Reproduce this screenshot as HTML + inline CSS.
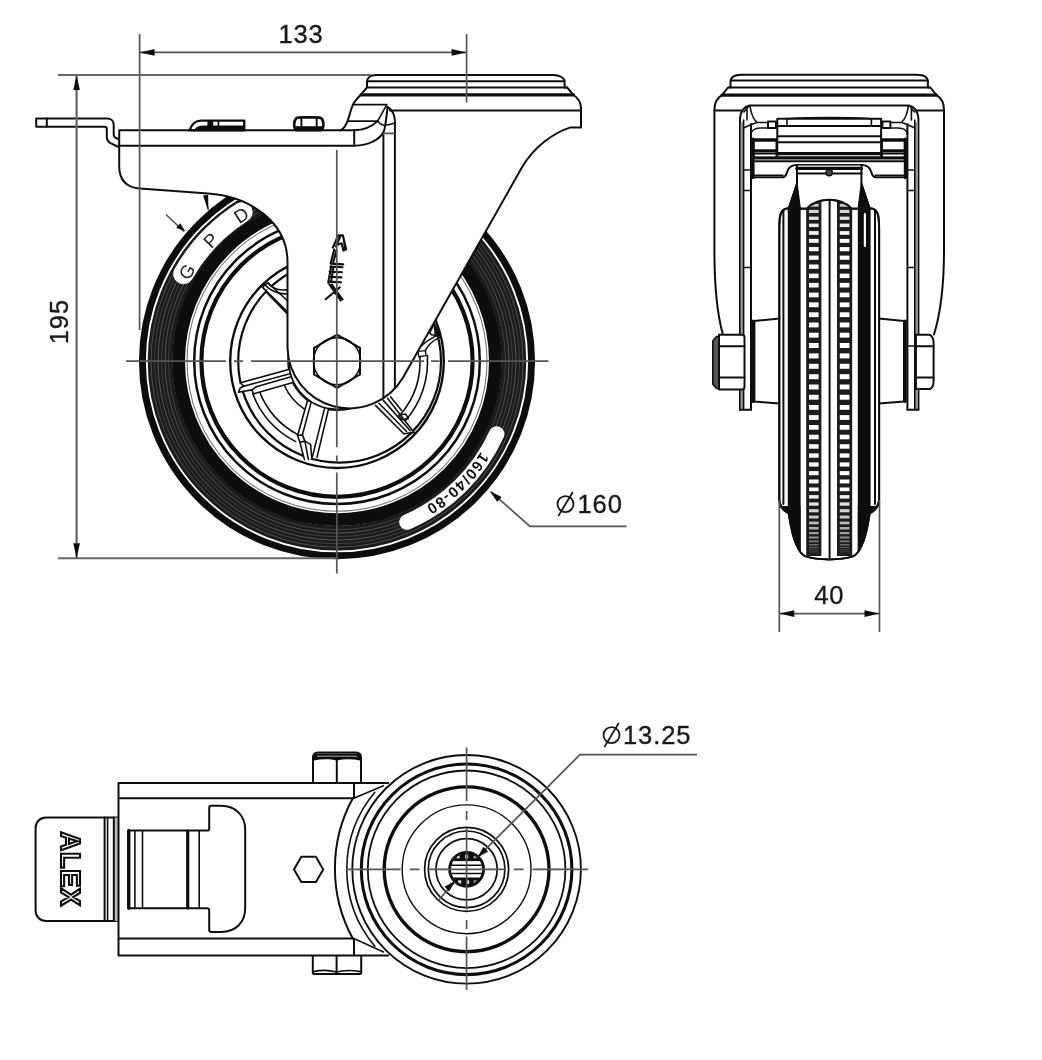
<!DOCTYPE html>
<html><head><meta charset="utf-8"><title>Caster drawing</title>
<style>html,body{margin:0;padding:0;background:#fff}svg{display:block}</style>
</head><body>
<svg width="1042" height="1060" viewBox="0 0 1042 1060">
<defs>
<filter id="soft" x="0" y="0" width="100%" height="100%" filterUnits="userSpaceOnUse"><feGaussianBlur stdDeviation="0.55"/></filter>
<style>
.k{fill:none;stroke:#111;stroke-width:2.0;stroke-linecap:round;stroke-linejoin:round}
.kt{fill:none;stroke:#111;stroke-width:1.6;stroke-linecap:round;stroke-linejoin:round}
.kb{fill:none;stroke:#111;stroke-width:3.2;stroke-linecap:round;stroke-linejoin:round}
.w{fill:#fff;stroke:#111;stroke-width:2.0;stroke-linecap:round;stroke-linejoin:round}
.wt{fill:#fff;stroke:#111;stroke-width:1.2;stroke-linejoin:round}
.d{fill:none;stroke:#555;stroke-width:1.7}
.dt{font-family:"Liberation Sans",sans-serif;fill:#1a1a1a;letter-spacing:0.9px;stroke:#1a1a1a;stroke-width:0.35}
.ar{fill:#111;stroke:none}
</style>
</defs>
<rect width="100%" height="100%" fill="#fff"/>
<g filter="url(#soft)">
<g id="mainview">
<circle cx="337.0" cy="361.2" r="198.0" style="fill:#fff;stroke:none"/>
<circle cx="337.0" cy="361.2" r="176.9" style="fill:none;stroke:#1a1a1a;stroke-width:24.8"/>
<circle cx="337.0" cy="361.2" r="186.0" style="fill:none;stroke:#555;stroke-width:0.9"/>
<circle cx="337.0" cy="361.2" r="182.5" style="fill:none;stroke:#444;stroke-width:0.9"/>
<circle cx="337.0" cy="361.2" r="179.0" style="fill:none;stroke:#5e5e5e;stroke-width:0.9"/>
<circle cx="337.0" cy="361.2" r="175.5" style="fill:none;stroke:#444;stroke-width:0.9"/>
<circle cx="337.0" cy="361.2" r="172.0" style="fill:none;stroke:#585858;stroke-width:0.9"/>
<circle cx="337.0" cy="361.2" r="168.5" style="fill:none;stroke:#444;stroke-width:0.9"/>
<circle cx="337.0" cy="361.2" r="194.6" style="fill:none;stroke:#0a0a0a;stroke-width:6.9"/>
<circle cx="337.0" cy="361.2" r="158.4" style="fill:none;stroke:#0a0a0a;stroke-width:12.8"/>
<circle cx="337.0" cy="361.2" r="150.0" style="fill:none;stroke:#777;stroke-width:1.1"/>
<circle cx="337.0" cy="361.2" r="142.8" style="fill:none;stroke:#111;stroke-width:2.5"/>
<circle cx="337.0" cy="361.2" r="135.6" style="fill:none;stroke:#111;stroke-width:4.2"/>
<path d="M183.4,274.0 A176.6,176.6 0 0 1 242.4,212.1" fill="none" stroke="#fff" stroke-width="20.4" stroke-linecap="round"/>
<text transform="translate(192.5,275.1) rotate(-59.2)" font-family="Liberation Sans, sans-serif" font-size="18.5" fill="#222" text-anchor="middle">G</text>
<text transform="translate(215.6,244.8) rotate(-46.2)" font-family="Liberation Sans, sans-serif" font-size="18.5" fill="#222" text-anchor="middle">P</text>
<text transform="translate(244.9,220.5) rotate(-33.2)" font-family="Liberation Sans, sans-serif" font-size="18.5" fill="#222" text-anchor="middle">D</text>
<path d="M496.7,434.0 A175.5,175.5 0 0 1 407.0,522.1" fill="none" stroke="#fff" stroke-width="15.5" stroke-linecap="round"/>
<path id="tp2" d="M496.3,420.8 A170.1,170.1 0 0 1 393.8,521.5" fill="none" stroke="none"/>
<text font-family="Liberation Sans, sans-serif" font-size="15" font-weight="bold" fill="#111" letter-spacing="1.3" text-anchor="middle"><textPath href="#tp2" startOffset="50%">160/40-80</textPath></text>
<circle cx="337.0" cy="361.2" r="106.8" style="fill:none;stroke:#111;stroke-width:2.4"/>
<circle cx="339.6" cy="361.2" r="101.4" style="fill:none;stroke:#111;stroke-width:2.2"/>
<path d="M295.7,441.6 A90.4,90.4 0 0 1 252.8,394.0" class="kt"/>
<path d="M297.8,434.6 A83.2,83.2 0 0 1 259.7,392.1" class="kt"/>
<path d="M304.7,409.4 A58.0,58.0 0 0 1 284.1,385.0" class="kt"/>
<path d="M427.4,355.5 A90.6,90.6 0 0 1 405.2,420.9" class="kt"/>
<path d="M419.9,356.3 A83.0,83.0 0 0 1 400.4,414.8" class="kt"/>
<circle cx="337.0" cy="361.2" r="49.0" style="fill:#fff;stroke:#111;stroke-width:1.6"/>
<path d="M307.3,401.2 L297.6,435.5 L299.9,442.3 L304.2,460.2 L317.0,457.4 L328.6,408.7 Z" class="kt" style="fill:#fff;stroke:none"/>
<path d="M307.3,401.2 L297.6,435.5" class="kt"/>
<path d="M311.1,402.4 L302.4,434.9" class="kt"/>
<path d="M324.8,407.4 L312.0,458.4" class="kt"/>
<path d="M328.6,408.7 L317.0,457.4" class="kt"/>
<path d="M297.6,435.5 L299.9,442.3 L304.4,459.6" class="kt"/>
<path d="M302.4,434.9 L304.9,441.1 L310.6,444.4 L311.8,458.4" class="kt"/>
<path d="M299.9,442.3 L304.9,441.1" class="kt"/>
<path d="M304.9,441.1 L308.4,459.4" class="kt"/>
<path d="M297.6,435.5 L302.4,434.9" class="kt"/>
<path d="M240.4,382.8 L288.6,369.4 L293.0,382.5 L253.7,393.7 L251.8,389.9 L238.2,392.4 Z" class="kt" style="fill:#fff;stroke:none"/>
<path d="M240.4,382.8 L288.6,369.4" class="kt"/>
<path d="M243.7,386.2 L289.9,373.7" class="kt"/>
<path d="M256.2,386.8 L291.1,376.8" class="kt"/>
<path d="M253.7,393.7 L293.0,382.5" class="kt"/>
<path d="M238.4,392.2 L251.8,389.9 L253.7,394.6" class="kt"/>
<path d="M243.7,386.2 L240.2,388.0 L238.8,391.6" class="kt"/>
<path d="M251.8,389.9 L256.2,386.8" class="kt"/>
<path d="M240.4,382.8 L243.7,386.2" class="kt"/>
<path d="M375.5,405.4 L403.8,433.7 L414.0,432.4 L387.5,398.3 Z" class="kt" style="fill:#fff;stroke:none"/>
<path d="M375.5,405.4 L403.8,433.7" class="kt"/>
<path d="M379.0,403.3 L406.6,431.5" class="kt"/>
<path d="M383.3,400.4 L410.2,430.8" class="kt"/>
<path d="M387.5,398.3 L414.0,432.4" class="kt"/>
<path d="M390.5,396.8 L401.6,410.4" class="kt"/>
<path d="M398.6,415.2 L405.6,414.0 L408.4,418.6 L401.8,419.6 Z" class="kt"/>
<path d="M403.8,433.7 L414.0,432.4" class="kt"/>
<path d="M268.2,283.0 L292.0,305.0 L292.0,318.6 L266.8,292.6 Z" class="kt" style="fill:#fff;stroke:none"/>
<path d="M262.6,287.4 L292.0,316.4" class="kt"/>
<path d="M266.8,292.6 L292.0,318.6" class="kt"/>
<path d="M268.2,283.0 L292.0,305.0" class="kt"/>
<path d="M265.0,284.6 C270,291 280,295 289,293.6" class="kt"/>
<path d="M268.2,283.0 C272,288.6 280,291 289,289.4" class="kt"/>
<path d="M262.6,287.4 L265.0,284.6 L268.2,283.0" class="kt"/>
<path d="M418.0,351.4 L425.4,350.6 L426.0,355.6 L418.8,356.8 Z" class="kt" style="fill:#fff;stroke:#111;stroke-width:1.4"/>
<path d="M425.4,350.6 C428,345 433,340.5 439.6,337.4" class="kt"/>
<path d="M421.4,345.6 C426,341.6 431,338.4 438.4,334.6" class="kt"/>
<path d="M429.6,333.0 L434.4,323.6 L439.8,335.6 L431.6,334.8 Z" class="kt"/>
<path d="M434.4,323.6 L435.2,334.6" class="kt"/>
<circle cx="337.0" cy="361.2" r="48.0" style="fill:#fff;stroke:#111;stroke-width:1.6"/>
<path d="M36.2,118.6 H107 C111,118.6 113.7,121 113.7,125 V134.5 C113.7,136.5 114.5,137.4 116,138 L119.5,139.5 V147.5 L110,142.8 C108,141.6 106.8,140 106.8,137 V129 C106.8,127.6 106,126.8 104.5,126.8 H36.2 Z" class="w"/>
<line x1="46.8" y1="118.6" x2="46.8" y2="126.8" class="k"/>
<path d="M119.2,130.3 H340.7 C344,128.6 346,125.5 347.7,120.7 C349.5,116 350.5,110 353,104.6 C354.5,101.5 357,98.5 360.7,95 L367,87.4 L367,82 C367,78 370,75 376,75 H553 C560,75 564.6,78 564.6,82 V87.4 L567,87.4 L573.4,95 C578,98 581,102 581,108 V127.4 H570.5 C553,133 534,147 522,167.3 L402.9,377.8 A62,62 0 0 1 287.5,347 V262 C287.5,222 250,196.5 208,193.6 L140,188.6 C126,187.5 119.2,180 119.2,166 Z" class="w"/>
<path d="M119.2,145.7 H354.2 C368,145.5 380,140 384,131 C386,124 386.8,113 387.6,106.9" class="k"/>
<path d="M354.2,130.3 V145.7" class="k"/>
<path d="M340.7,130.3 H354.2 C364,130 372,126.5 377.6,121.1" class="k"/>
<path d="M377.6,121.1 C380,124 383,125.5 385.3,125.3 C389,125 392,124 394.9,123" class="kt"/>
<path d="M353,104.6 H386.8 L377.6,121.1 H348" class="kt"/>
<line x1="367.5" y1="81.2" x2="564.6" y2="81.2" class="k"/>
<line x1="367.5" y1="87.4" x2="567.0" y2="87.4" class="k"/>
<line x1="361.0" y1="94.9" x2="573.4" y2="94.9" class="kb"/>
<line x1="389.9" y1="110.4" x2="581.0" y2="110.4" class="k"/>
<line x1="383.4" y1="135.3" x2="383.4" y2="398.3" class="k"/>
<path d="M394.9,388 V120.7 C394.5,115 392.5,110.5 389.1,108.2 L387.6,106.9" class="k"/>
<path d="M383.7,133.4 H394.9" style="stroke:#555;stroke-width:1.8;fill:none"/>
<path d="M189.6,130.3 C191.5,124.5 195,120.6 201,120.6 H244.2 V130.3 Z" style="fill:#fff;stroke:#111;stroke-width:2.4;stroke-linejoin:round"/>
<path d="M194,130 C196,126.8 199,125.4 204,125.4 H244 V130.3 H194 Z" style="fill:#111;stroke:none"/>
<rect x="207.4" y="120.6" width="5.8" height="9" fill="#111"/>
<path d="M218.4,120.6 V129" style="stroke:#111;stroke-width:1.8;fill:none"/>
<path d="M296.4,130.3 C293.6,128 293.2,121 296.4,118.2 C298,117.4 300,117.4 303,117.4 H314.4 C318,117.4 319.6,117.4 321.2,118.2 C324.4,121 324,128 321.2,130.3 Z" style="fill:#fff;stroke:#111;stroke-width:2.6;stroke-linejoin:round"/>
<path d="M295.6,126.2 H322 V130.3 H295.6 Z" style="fill:#111;stroke:none"/>
<path d="M301.4,118.2 V127 M316.7,118.2 V127" style="stroke:#111;stroke-width:1.9;fill:none"/>
<path class="w" d="M337.0,334.6 L360.0,347.9 L360.0,374.5 L337.0,387.8 L314.0,374.5 L314.0,347.9 Z"/>
<circle cx="337.0" cy="361.2" r="23.6" class="kt"/>
<path d="M332.8,247.6 L338.2,235.4 L342.8,235.2 L346.2,249.4 L343.4,250.6 L341.6,243.2 L337.2,244.8 M340.4,236 L336,246.5 M343.6,238 L345,248 M334.2,249.5 L330.6,263.6 L343.2,264.4 M336.4,250.4 L333.4,262 M330.4,266.6 L342.6,267.2 M329.6,271.6 L342,272.2 M329,276.8 L341.4,277.4 M328.4,281.6 L341,282.2 M331.2,266.6 L328.2,282.6 M333.6,267 L331,282 M329.4,284.4 L340.6,300.4 M331.8,284.6 L342.4,299.4 M325.6,299.2 L339.8,287.4" fill="none" stroke="#111" stroke-width="2.1" stroke-linecap="round" stroke-linejoin="round"/>
</g>
<g id="sideview">
<path d="M722.9,334.5 C717.4,315 714.4,285 714.4,250 V110.3 C714.4,103 717,98 722,95.2 L728,87.5 L730.5,87.5 V82 C730.5,77 735,74.7 741.5,74.7 H916.9 C923.4,74.7 927.9,77 927.9,82 V87.5 L930.4,87.5 L936.4,95.2 C941.4,98 944.0,103 944.0,110.3 V250 C944.0,285 940.0,315 934.0,334.5 L907.4,334.5 V409.7 H751 V334.5 Z" style="fill:#fff;stroke:none"/>
<path d="M722.9,334.5 C717.4,315 714.4,285 714.4,250 V110.3 C714.4,103 717,98 722,95.2 L728,87.5 L730.5,87.5 V82 C730.5,77 735,74.7 741.5,74.7 H916.9 C923.4,74.7 927.9,77 927.9,82 V87.5 L930.4,87.5 L936.4,95.2 C941.4,98 944.0,103 944.0,110.3 V250 C944.0,285 940.0,315 934.0,334.5" class="k"/>
<line x1="731.0" y1="80.4" x2="927.4" y2="80.4" class="k"/>
<line x1="729.0" y1="87.6" x2="929.4" y2="87.6" class="k"/>
<line x1="722.0" y1="95.2" x2="936.4" y2="95.2" class="kb"/>
<line x1="714.4" y1="110.4" x2="741.0" y2="110.4" class="k"/>
<line x1="944.0" y1="110.4" x2="917.4" y2="110.4" class="k"/>
<path d="M740,409.7 V118 C741,110 744,106.5 749.5,105.4 H908.9 C914.4,106.5 917.4,110 918.4,118 V409.7" class="w"/>
<rect x="740.6" y="122" width="3.0" height="287" fill="#999"/>
<line x1="743.6" y1="120.0" x2="743.6" y2="409.7" class="kt"/>
<line x1="751.0" y1="124.0" x2="751.0" y2="409.7" class="k"/>
<line x1="740.0" y1="409.7" x2="751.0" y2="409.7" class="k"/>
<line x1="743.6" y1="190.5" x2="751.0" y2="190.5" class="kt"/>
<line x1="743.6" y1="267.5" x2="751.0" y2="267.5" class="kt"/>
<line x1="743.6" y1="170.0" x2="751.0" y2="170.0" class="kt"/>
<path d="M750.0,106 C751.0,113 753.0,119 757.0,122.5 H767.0 M743.6,128 C748.0,126 752.0,124 757.0,122.5 M744.0,112 L748.0,107 M747.0,120 V108" class="kt"/>
<rect x="768.0" y="121.4" width="8" height="6.6" class="w"/>
<path d="M751.0,133.5 C752.0,130 755.0,128.2 760.0,128 H777.3" class="kt"/>
<rect x="753.6" y="139.6" width="22.9" height="18.2" class="w"/>
<line x1="753.6" y1="140.2" x2="776.5" y2="140.2" class="kb"/>
<line x1="753.6" y1="150.8" x2="776.5" y2="150.8" class="kb"/>
<line x1="753.6" y1="153.6" x2="776.5" y2="153.6" class="kt"/>
<line x1="753.0" y1="139.0" x2="753.0" y2="177.6" class="kb"/>
<rect x="914.8" y="122" width="3.0" height="287" fill="#999"/>
<line x1="914.8" y1="120.0" x2="914.8" y2="409.7" class="kt"/>
<line x1="907.4" y1="124.0" x2="907.4" y2="409.7" class="k"/>
<line x1="918.4" y1="409.7" x2="907.4" y2="409.7" class="k"/>
<line x1="914.8" y1="190.5" x2="907.4" y2="190.5" class="kt"/>
<line x1="914.8" y1="267.5" x2="907.4" y2="267.5" class="kt"/>
<line x1="914.8" y1="170.0" x2="907.4" y2="170.0" class="kt"/>
<path d="M908.4,106 C907.4,113 905.4,119 901.4,122.5 H891.4 M914.8,128 C910.4,126 906.4,124 901.4,122.5 M914.4,112 L910.4,107 M911.4,120 V108" class="kt"/>
<rect x="882.4" y="121.4" width="8" height="6.6" class="w"/>
<path d="M907.4,133.5 C906.4,130 903.4,128.2 898.4,128 H881.1" class="kt"/>
<rect x="881.9" y="139.6" width="22.9" height="18.2" class="w"/>
<line x1="904.8" y1="140.2" x2="881.9" y2="140.2" class="kb"/>
<line x1="904.8" y1="150.8" x2="881.9" y2="150.8" class="kb"/>
<line x1="904.8" y1="153.6" x2="881.9" y2="153.6" class="kt"/>
<line x1="905.4" y1="139.0" x2="905.4" y2="177.6" class="kb"/>
<rect x="777.3" y="118.8" width="103.8" height="38.8" class="w"/>
<path d="M787,118.8 C800,117 858.4,117 871.4,118.8 V125.8 M787,118.8 V125.8" class="kt"/>
<line x1="777.3" y1="126.0" x2="881.1" y2="126.0" class="k"/>
<line x1="777.3" y1="136.2" x2="881.1" y2="136.2" class="k"/>
<line x1="777.3" y1="142.2" x2="881.1" y2="142.2" class="k"/>
<line x1="777.3" y1="153.6" x2="881.1" y2="153.6" class="kb"/>
<line x1="753.6" y1="158.0" x2="904.8" y2="158.0" class="kb"/>
<path d="M753.6,161.3 H904.8 V177.3 H875.9 C872.4,177.3 871.9,174 870.9,171 C869.4,167 866.4,165 861.9,165 H796.5 C792,165 789,167 787.5,171 C786.5,174 786,177.3 782.5,177.3 H753.6 Z" class="w"/>
<line x1="753.6" y1="175.2" x2="783.0" y2="175.2" class="kt"/>
<line x1="904.8" y1="175.2" x2="875.4" y2="175.2" class="kt"/>
<line x1="797.0" y1="168.4" x2="861.4" y2="168.4" class="kb"/>
<line x1="797.0" y1="173.4" x2="861.4" y2="173.4" class="k"/>
<circle cx="829.2" cy="172.6" r="3.2" style="fill:#444;stroke:#111;stroke-width:1.4"/>
<path d="M754.4,321 L779.6,318.5 V403.5 L754.4,401.5 Z" class="w"/>
<line x1="753.2" y1="321.0" x2="753.2" y2="401.5" class="kb"/>
<path d="M904.0,321 L878.8,318.5 V403.5 L904.0,401.5 Z" class="w"/>
<line x1="905.2" y1="321.0" x2="905.2" y2="401.5" class="kb"/>
<path d="M779.3,228 C779.3,214 781,210 786,208.6 H806.5 C812,203 820,199.8 829.2,199.8 C838.4,199.8 846.4,203 851.9,208.6 H872.4 C877.4,210 879.1,214 879.1,228 V499.6 C878.8,506 876.4,510 869.7,513.2 C868.4,522 865.4,538 861.8,545 C859.4,551 856.4,555 852.8,556.4 C846.4,558.6 838.4,559.4 829.2,559.4 C820,559.4 812,558.6 805.6,556.4 C802,555 799,551 796.6,545 C793,538 790,522 788.7,513.2 C782,510 779.6,506 779.3,499.6 Z" class="w"/>
<clipPath id="wclip"><path d="M779.3,228 C779.3,214 781,210 786,208.6 H806.5 C812,203 820,199.8 829.2,199.8 C838.4,199.8 846.4,203 851.9,208.6 H872.4 C877.4,210 879.1,214 879.1,228 V499.6 C878.8,506 876.4,510 869.7,513.2 C868.4,522 865.4,538 861.8,545 C859.4,551 856.4,555 852.8,556.4 C846.4,558.6 838.4,559.4 829.2,559.4 C820,559.4 812,558.6 805.6,556.4 C802,555 799,551 796.6,545 C793,538 790,522 788.7,513.2 C782,510 779.6,506 779.3,499.6 Z"/></clipPath>
<g clip-path="url(#wclip)">
<rect x="787.8" y="182" width="12.8" height="380" fill="#0a0a0a"/>
<rect x="778.0" y="506" width="22.6" height="60" fill="#0a0a0a"/>
<rect x="857.8" y="182" width="12.8" height="380" fill="#0a0a0a"/>
<rect x="857.8" y="506" width="22.6" height="60" fill="#0a0a0a"/>
<rect x="806.2" y="200.0" width="15.2" height="356.0" fill="#1c1c1c"/>
<rect x="809.0" y="200.0" width="9.6" height="0.7" fill="rgb(70,70,70)"/>
<rect x="809.0" y="203.8" width="9.6" height="2.9" fill="rgb(200,200,200)"/>
<rect x="809.0" y="209.9" width="9.6" height="3.1" fill="rgb(213,213,213)"/>
<rect x="809.0" y="216.6" width="9.6" height="3.3" fill="rgb(226,226,226)"/>
<rect x="809.0" y="223.6" width="9.6" height="3.5" fill="rgb(238,238,238)"/>
<rect x="809.0" y="231.1" width="9.6" height="3.7" fill="rgb(249,249,249)"/>
<rect x="809.0" y="238.9" width="9.6" height="3.9" fill="rgb(255,255,255)"/>
<rect x="809.0" y="247.1" width="9.6" height="4.1" fill="rgb(255,255,255)"/>
<rect x="809.0" y="255.6" width="9.6" height="4.2" fill="rgb(255,255,255)"/>
<rect x="809.0" y="264.5" width="9.6" height="4.3" fill="rgb(255,255,255)"/>
<rect x="809.0" y="273.6" width="9.6" height="4.5" fill="rgb(255,255,255)"/>
<rect x="809.0" y="282.9" width="9.6" height="4.6" fill="rgb(255,255,255)"/>
<rect x="809.0" y="292.6" width="9.6" height="4.7" fill="rgb(255,255,255)"/>
<rect x="809.0" y="302.4" width="9.6" height="4.8" fill="rgb(255,255,255)"/>
<rect x="809.0" y="312.3" width="9.6" height="4.8" fill="rgb(255,255,255)"/>
<rect x="809.0" y="322.5" width="9.6" height="4.9" fill="rgb(255,255,255)"/>
<rect x="809.0" y="332.7" width="9.6" height="4.9" fill="rgb(255,255,255)"/>
<rect x="809.0" y="343.0" width="9.6" height="5.0" fill="rgb(255,255,255)"/>
<rect x="809.0" y="353.4" width="9.6" height="5.0" fill="rgb(255,255,255)"/>
<rect x="809.0" y="363.8" width="9.6" height="5.0" fill="rgb(255,255,255)"/>
<rect x="809.0" y="374.2" width="9.6" height="5.0" fill="rgb(255,255,255)"/>
<rect x="809.0" y="384.5" width="9.6" height="4.9" fill="rgb(255,255,255)"/>
<rect x="809.0" y="394.8" width="9.6" height="4.9" fill="rgb(255,255,255)"/>
<rect x="809.0" y="405.0" width="9.6" height="4.8" fill="rgb(255,255,255)"/>
<rect x="809.0" y="415.1" width="9.6" height="4.8" fill="rgb(255,255,255)"/>
<rect x="809.0" y="425.0" width="9.6" height="4.7" fill="rgb(255,255,255)"/>
<rect x="809.0" y="434.7" width="9.6" height="4.6" fill="rgb(255,255,255)"/>
<rect x="809.0" y="444.2" width="9.6" height="4.5" fill="rgb(255,255,255)"/>
<rect x="809.0" y="453.4" width="9.6" height="4.3" fill="rgb(255,255,255)"/>
<rect x="809.0" y="462.4" width="9.6" height="4.2" fill="rgb(255,255,255)"/>
<rect x="809.0" y="471.1" width="9.6" height="4.1" fill="rgb(255,255,255)"/>
<rect x="809.0" y="479.5" width="9.6" height="3.9" fill="rgb(255,255,255)"/>
<rect x="809.0" y="487.5" width="9.6" height="3.7" fill="rgb(249,249,249)"/>
<rect x="809.0" y="495.1" width="9.6" height="3.5" fill="rgb(238,238,238)"/>
<rect x="809.0" y="502.4" width="9.6" height="3.3" fill="rgb(226,226,226)"/>
<rect x="809.0" y="509.2" width="9.6" height="3.1" fill="rgb(213,213,213)"/>
<rect x="809.0" y="515.6" width="9.6" height="2.9" fill="rgb(200,200,200)"/>
<rect x="809.0" y="521.6" width="9.6" height="2.7" fill="rgb(186,186,186)"/>
<rect x="809.0" y="527.0" width="9.6" height="2.5" fill="rgb(172,172,172)"/>
<rect x="809.0" y="532.0" width="9.6" height="2.2" fill="rgb(157,157,157)"/>
<rect x="809.0" y="536.5" width="9.6" height="2.0" fill="rgb(142,142,142)"/>
<rect x="809.0" y="540.5" width="9.6" height="1.7" fill="rgb(126,126,126)"/>
<rect x="809.0" y="544.0" width="9.6" height="1.5" fill="rgb(111,111,111)"/>
<rect x="809.0" y="546.9" width="9.6" height="1.2" fill="rgb(95,95,95)"/>
<rect x="809.0" y="549.3" width="9.6" height="0.9" fill="rgb(78,78,78)"/>
<rect x="809.0" y="551.1" width="9.6" height="0.7" fill="rgb(70,70,70)"/>
<rect x="809.0" y="552.3" width="9.6" height="0.4" fill="rgb(70,70,70)"/>
<rect x="809.0" y="553.0" width="9.6" height="0.1" fill="rgb(70,70,70)"/>
<rect x="809.0" y="553.2" width="9.6" height="-0.1" fill="rgb(70,70,70)"/>
<rect x="837.0" y="200.0" width="15.2" height="356.0" fill="#1c1c1c"/>
<rect x="839.8" y="200.0" width="9.6" height="0.7" fill="rgb(70,70,70)"/>
<rect x="839.8" y="203.8" width="9.6" height="2.9" fill="rgb(200,200,200)"/>
<rect x="839.8" y="209.9" width="9.6" height="3.1" fill="rgb(213,213,213)"/>
<rect x="839.8" y="216.6" width="9.6" height="3.3" fill="rgb(226,226,226)"/>
<rect x="839.8" y="223.6" width="9.6" height="3.5" fill="rgb(238,238,238)"/>
<rect x="839.8" y="231.1" width="9.6" height="3.7" fill="rgb(249,249,249)"/>
<rect x="839.8" y="238.9" width="9.6" height="3.9" fill="rgb(255,255,255)"/>
<rect x="839.8" y="247.1" width="9.6" height="4.1" fill="rgb(255,255,255)"/>
<rect x="839.8" y="255.6" width="9.6" height="4.2" fill="rgb(255,255,255)"/>
<rect x="839.8" y="264.5" width="9.6" height="4.3" fill="rgb(255,255,255)"/>
<rect x="839.8" y="273.6" width="9.6" height="4.5" fill="rgb(255,255,255)"/>
<rect x="839.8" y="282.9" width="9.6" height="4.6" fill="rgb(255,255,255)"/>
<rect x="839.8" y="292.6" width="9.6" height="4.7" fill="rgb(255,255,255)"/>
<rect x="839.8" y="302.4" width="9.6" height="4.8" fill="rgb(255,255,255)"/>
<rect x="839.8" y="312.3" width="9.6" height="4.8" fill="rgb(255,255,255)"/>
<rect x="839.8" y="322.5" width="9.6" height="4.9" fill="rgb(255,255,255)"/>
<rect x="839.8" y="332.7" width="9.6" height="4.9" fill="rgb(255,255,255)"/>
<rect x="839.8" y="343.0" width="9.6" height="5.0" fill="rgb(255,255,255)"/>
<rect x="839.8" y="353.4" width="9.6" height="5.0" fill="rgb(255,255,255)"/>
<rect x="839.8" y="363.8" width="9.6" height="5.0" fill="rgb(255,255,255)"/>
<rect x="839.8" y="374.2" width="9.6" height="5.0" fill="rgb(255,255,255)"/>
<rect x="839.8" y="384.5" width="9.6" height="4.9" fill="rgb(255,255,255)"/>
<rect x="839.8" y="394.8" width="9.6" height="4.9" fill="rgb(255,255,255)"/>
<rect x="839.8" y="405.0" width="9.6" height="4.8" fill="rgb(255,255,255)"/>
<rect x="839.8" y="415.1" width="9.6" height="4.8" fill="rgb(255,255,255)"/>
<rect x="839.8" y="425.0" width="9.6" height="4.7" fill="rgb(255,255,255)"/>
<rect x="839.8" y="434.7" width="9.6" height="4.6" fill="rgb(255,255,255)"/>
<rect x="839.8" y="444.2" width="9.6" height="4.5" fill="rgb(255,255,255)"/>
<rect x="839.8" y="453.4" width="9.6" height="4.3" fill="rgb(255,255,255)"/>
<rect x="839.8" y="462.4" width="9.6" height="4.2" fill="rgb(255,255,255)"/>
<rect x="839.8" y="471.1" width="9.6" height="4.1" fill="rgb(255,255,255)"/>
<rect x="839.8" y="479.5" width="9.6" height="3.9" fill="rgb(255,255,255)"/>
<rect x="839.8" y="487.5" width="9.6" height="3.7" fill="rgb(249,249,249)"/>
<rect x="839.8" y="495.1" width="9.6" height="3.5" fill="rgb(238,238,238)"/>
<rect x="839.8" y="502.4" width="9.6" height="3.3" fill="rgb(226,226,226)"/>
<rect x="839.8" y="509.2" width="9.6" height="3.1" fill="rgb(213,213,213)"/>
<rect x="839.8" y="515.6" width="9.6" height="2.9" fill="rgb(200,200,200)"/>
<rect x="839.8" y="521.6" width="9.6" height="2.7" fill="rgb(186,186,186)"/>
<rect x="839.8" y="527.0" width="9.6" height="2.5" fill="rgb(172,172,172)"/>
<rect x="839.8" y="532.0" width="9.6" height="2.2" fill="rgb(157,157,157)"/>
<rect x="839.8" y="536.5" width="9.6" height="2.0" fill="rgb(142,142,142)"/>
<rect x="839.8" y="540.5" width="9.6" height="1.7" fill="rgb(126,126,126)"/>
<rect x="839.8" y="544.0" width="9.6" height="1.5" fill="rgb(111,111,111)"/>
<rect x="839.8" y="546.9" width="9.6" height="1.2" fill="rgb(95,95,95)"/>
<rect x="839.8" y="549.3" width="9.6" height="0.9" fill="rgb(78,78,78)"/>
<rect x="839.8" y="551.1" width="9.6" height="0.7" fill="rgb(70,70,70)"/>
<rect x="839.8" y="552.3" width="9.6" height="0.4" fill="rgb(70,70,70)"/>
<rect x="839.8" y="553.0" width="9.6" height="0.1" fill="rgb(70,70,70)"/>
<rect x="839.8" y="553.2" width="9.6" height="-0.1" fill="rgb(70,70,70)"/>
<line x1="783.4" y1="196.0" x2="783.4" y2="504.0" class="k"/>
<line x1="875.0" y1="196.0" x2="875.0" y2="504.0" class="k"/>
<line x1="829.6" y1="196.0" x2="829.6" y2="560.0" class="k"/>
</g>
<path d="M779.3,228 C779.3,214 781,210 786,208.6 H806.5 C812,203 820,199.8 829.2,199.8 C838.4,199.8 846.4,203 851.9,208.6 H872.4 C877.4,210 879.1,214 879.1,228 V499.6 C878.8,506 876.4,510 869.7,513.2 C868.4,522 865.4,538 861.8,545 C859.4,551 856.4,555 852.8,556.4 C846.4,558.6 838.4,559.4 829.2,559.4 C820,559.4 812,558.6 805.6,556.4 C802,555 799,551 796.6,545 C793,538 790,522 788.7,513.2 C782,510 779.6,506 779.3,499.6 Z" class="k"/>
<path d="M797,165.5 V184 L788.6,208.6 H806.5 C812,203 820,199.8 829.2,199.8 C838.4,199.8 846.4,203 851.9,208.6 H869.8 L861.4,184 V165.5" class="w"/>
<path d="M797,182 L788.4,208.6 H800.4 Z" style="fill:#0a0a0a;stroke:#0a0a0a;stroke-width:1"/>
<path d="M861.4,182 L870.0,208.6 H858.0 Z" style="fill:#0a0a0a;stroke:#0a0a0a;stroke-width:1"/>
<line x1="797.0" y1="168.4" x2="861.4" y2="168.4" class="kb"/>
<line x1="797.0" y1="173.4" x2="861.4" y2="173.4" class="k"/>
<circle cx="829.2" cy="172.6" r="3.2" style="fill:#444;stroke:#111;stroke-width:1.4"/>
<path d="M864.9,214 V246" style="stroke:#fff;stroke-width:2.2;fill:none;stroke-linecap:round"/>
<path d="M716.5,336.5 L712.8,341 V384 L716.5,388.5 H719 V336.5 Z" style="fill:#555;stroke:#111;stroke-width:1.6;stroke-linejoin:round"/>
<path d="M719,334.8 H742 C743.5,334.8 744.5,336 744.5,337.5 V386.5 C744.5,388 743.5,389.4 742,389.4 H719 Z" class="w"/>
<path d="M719,346.2 H744.5 M719,377.4 H744.5" class="k"/>
<path d="M915.9,334.8 H930 C932,336 933.6,339 933.6,343 V381 C933.6,385 932,388 930,389 H915.9 Z" class="w"/>
<path d="M915.9,346.2 H933.6 M915.9,377.4 H933.6" class="k"/>
<line x1="907.4" y1="346.0" x2="915.9" y2="346.0" class="kt"/>
</g>
<g id="bottomview">
<path d="M313,783 V757 C313,754.5 315,752.6 318,752.6 H356 C359,752.6 361,754.5 361,757 V783" class="w"/>
<path d="M314,753.6 H360 V760.4 C352,759 344,759 336.8,760.6 C330,759 322,759 314,760.4 Z" style="fill:#111;stroke:none"/>
<path d="M317,756.2 H357" style="stroke:#777;stroke-width:1.4;fill:none"/>
<line x1="336.8" y1="760.0" x2="336.8" y2="783.0" class="k"/>
<path d="M312.8,955.7 V973 C312.8,973.6 313.2,974 314,974 H360 C360.8,974 361.2,973.6 361.2,973 V955.7" class="w"/>
<line x1="336.6" y1="955.7" x2="336.6" y2="974.0" class="k"/>
<path d="M313.4,971.6 C321,970 329,970 336.6,972 C344,970 352,970 360.6,971.6" class="kt"/>
<path d="M118.5,817.6 H46 C40,817.6 35.6,822 35.6,828 V910.6 C35.6,916.6 40,921 46,921 H118.5 Z" class="w"/>
<rect x="113.8" y="817.6" width="4.7" height="103.4" fill="#bbb"/>
<line x1="104.6" y1="817.6" x2="104.6" y2="921.0" class="k"/>
<line x1="107.6" y1="817.6" x2="107.6" y2="921.0" class="kt"/>
<line x1="113.8" y1="817.6" x2="113.8" y2="921.0" class="k"/>
<text transform="translate(60.8,869.2) rotate(90)" font-family="Liberation Sans, sans-serif" font-size="27" font-weight="bold" fill="#fff" stroke="#111" stroke-width="2.1" text-anchor="middle" letter-spacing="0.8">ALEX</text>
<path d="M118.5,783.1 H388.3 L400,800 V938 L388.3,955.6 H118.5 Z" style="fill:#fff;stroke:none"/>
<path d="M388.3,783.1 H118.5 V955.6 H388.3" class="k"/>
<line x1="118.5" y1="798.3" x2="353.0" y2="798.3" class="k"/>
<line x1="118.5" y1="938.6" x2="353.0" y2="938.6" class="k"/>
<line x1="354.0" y1="783.1" x2="354.0" y2="798.3" class="k"/>
<line x1="354.0" y1="938.6" x2="354.0" y2="955.6" class="k"/>
<path d="M355.5,797.6 L383.5,785.8 M355.5,939.3 L383.5,952" class="kt"/>
<path d="M352.8,798.3 A146.5,146.5 0 0 0 352.8,938.6" class="k"/>
<path d="M128.2,830.6 H207 C208.6,830.6 209.2,830 209.2,828.4 V808 C209.2,806.4 209.8,805.8 211.4,805.8 H221 C236,805.8 245.2,816 245.2,830 V908 C245.2,922 236,932 221,932 H211.4 C209.8,932 209.2,931.4 209.2,929.8 V910.4 C209.2,908.8 208.6,908.2 207,908.2 H128.2 Z" class="w"/>
<path d="M134.9,831 V908 M142.5,831 V908 M199.2,831 V908" class="kt"/>
<line x1="187.7" y1="831.0" x2="187.7" y2="908.0" class="kb"/>
<line x1="128.8" y1="830.6" x2="128.8" y2="908.2" class="kb"/>
<path class="w" d="M323.2,869.4 L315.9,882.0 L301.3,882.0 L294.0,869.4 L301.3,856.8 L315.9,856.8 Z"/>
<circle cx="466.6" cy="869.3" r="114.3" style="fill:#fff;stroke:#111;stroke-width:1.9"/>
<path d="M374.8,946.3 A119.8,119.8 0 0 1 374.8,792.3" class="kt"/>
<circle cx="466.6" cy="869.3" r="105.3" style="fill:none;stroke:#111;stroke-width:3.1"/>
<circle cx="466.6" cy="869.3" r="98.8" style="fill:none;stroke:#111;stroke-width:1.8"/>
<circle cx="466.6" cy="869.3" r="82.4" style="fill:none;stroke:#111;stroke-width:3.4"/>
<circle cx="466.6" cy="869.3" r="64.4" style="fill:none;stroke:#111;stroke-width:1.4"/>
<circle cx="466.6" cy="869.3" r="42.0" style="fill:none;stroke:#111;stroke-width:1.7"/>
<circle cx="466.6" cy="869.3" r="38.3" style="fill:none;stroke:#111;stroke-width:1.7"/>
<circle cx="466.6" cy="869.3" r="30.6" style="fill:none;stroke:#111;stroke-width:1.7"/>
<circle cx="466.6" cy="869.3" r="17.3" style="fill:#0d0d0d;stroke:#111;stroke-width:2.2"/>
<clipPath id="hclip"><circle cx="466.6" cy="869.3" r="15.6"/></clipPath>
<g clip-path="url(#hclip)"><rect x="446" y="861.1" width="42" height="16.4" fill="#fff"/><rect x="456.5" y="854.8" width="3.2" height="3.6" fill="#ddd"/><rect x="465" y="854.8" width="3.2" height="3.6" fill="#ddd"/><rect x="473.5" y="855.3" width="3.2" height="3" fill="#999"/><rect x="458" y="880.3" width="3.2" height="3.6" fill="#ddd"/><rect x="466" y="880.3" width="3.2" height="3.6" fill="#ddd"/><rect x="473.5" y="880.3" width="3.2" height="3" fill="#999"/></g>
<path d="M450.5,865.3 H482.5 M450.5,873.5 H482.5" class="kt"/>
</g>
<g id="dims">
<line x1="139.6" y1="34.0" x2="139.6" y2="330.0" class="d"/>
<line x1="466.6" y1="34.0" x2="466.6" y2="102.5" class="d"/>
<line x1="139.6" y1="52.4" x2="466.6" y2="52.4" class="d"/>
<path class="ar" d="M139.6,52.4 L154.6,49.1 L154.6,55.7 Z"/>
<path class="ar" d="M466.6,52.4 L451.6,55.7 L451.6,49.1 Z"/>
<text class="dt" x="301.0" y="43.0" font-size="25.5" text-anchor="middle">133</text>
<line x1="58.0" y1="74.9" x2="371.0" y2="74.9" class="d" style="stroke:#666;stroke-width:2.0"/>
<line x1="58.0" y1="558.3" x2="338.0" y2="558.3" class="d" style="stroke:#666;stroke-width:2.0"/>
<line x1="76.6" y1="74.9" x2="76.6" y2="558.3" class="d" style="stroke:#6a6a6a;stroke-width:2.3"/>
<path class="ar" d="M76.6,74.9 L79.9,89.9 L73.3,89.9 Z"/>
<path class="ar" d="M76.6,558.3 L73.3,543.3 L79.9,543.3 Z"/>
<text class="dt" x="68.4" y="321.6" font-size="25.5" text-anchor="middle" transform="rotate(-90 68.4 321.6)">195</text>
<path class="d" d="M126,361.2 H226 M234,361.2 H243 M251,361.2 H424 M431,361.2 H439.6 M448,361.2 H548.4"/>
<path class="d" d="M336.8,150 V447.2 M336.8,455.6 V462 M336.8,472.6 V573.4"/>
<path class="d" d="M626.5,526.3 H530 L491,492"/>
<path class="ar" d="M489.7,490.9 L501.6,497.0 L497.3,502.0 Z"/>
<circle cx="565.5" cy="504.1" r="8.0" fill="none" stroke="#1a1a1a" stroke-width="1.8"/><line x1="558.3" y1="516.1" x2="572.8" y2="492.0" stroke="#1a1a1a" stroke-width="1.8"/>
<text class="dt" x="577.5" y="513.0" font-size="25.5" text-anchor="start">160</text>
<path class="d" d="M166,214.5 L184,231.5 M204.5,195 L208.3,209.5"/>
<path class="ar" d="M185.4,231.6 L176.2,227.8 L180.1,223.2 Z"/>
<path class="ar" d="M208.4,211.0 L203.2,195.7 L208.1,194.8 Z"/>
<line x1="779.3" y1="500.0" x2="779.3" y2="632.0" class="d"/>
<line x1="879.5" y1="500.0" x2="879.5" y2="632.0" class="d"/>
<line x1="779.3" y1="613.6" x2="879.5" y2="613.6" class="d"/>
<path class="ar" d="M779.3,613.6 L794.3,610.3 L794.3,616.9 Z"/>
<path class="ar" d="M879.5,613.6 L864.5,616.9 L864.5,610.3 Z"/>
<text class="dt" x="829.3" y="604.0" font-size="25.5" text-anchor="middle">40</text>
<path class="d" d="M346,869.3 H400.6 M409.7,869.3 H419.5 M427.6,869.3 H505.6 M513.7,869.3 H523.5 M532.6,869.3 H588"/>
<path class="d" d="M466.6,747.6 V801 M466.6,811 V820 M466.6,828 V909.5 M466.6,920 V929 M466.6,936.5 V990"/>
<path class="d" d="M697,754.6 H580 L478,856.8 M455.2,881.5 L439,899.5"/>
<path class="ar" d="M477.3,857.6 L483.5,846.8 L488.1,851.4 Z"/>
<path class="ar" d="M455.4,880.6 L449.2,891.4 L444.6,886.8 Z"/>
<circle cx="611.5" cy="735.1" r="8.0" fill="none" stroke="#1a1a1a" stroke-width="1.8"/><line x1="604.3" y1="747.1" x2="618.8" y2="723.0" stroke="#1a1a1a" stroke-width="1.8"/>
<text class="dt" x="623.0" y="744.0" font-size="25.5" text-anchor="start">13.25</text>
</g>
</g>
</svg>
</body></html>
